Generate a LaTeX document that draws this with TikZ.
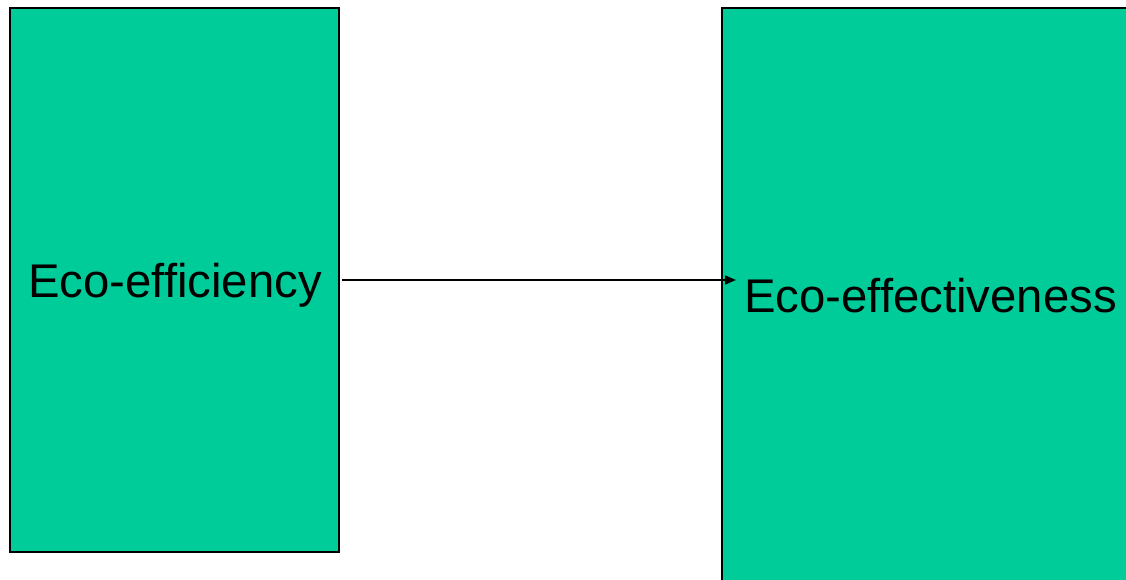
\documentclass[tikz,border=0pt]{standalone}
\usepackage{fontspec}
\setmainfont{Liberation Sans}
\usetikzlibrary{arrows.meta}
\definecolor{ecogreen}{RGB}{0,204,153}
\tikzset{
  ecobox/.style={draw=black, line width=2.2pt, fill=ecogreen, inner sep=0pt},
  ecotext/.style={font=\fontsize{47.3}{52}\selectfont, inner sep=0pt, anchor=base west},
  flow/.style={line width=1.9pt, -{Triangle[length=11pt,width=9pt]}}
}
\begin{document}
\begin{tikzpicture}[x=1pt,y=-1pt]
\useasboundingbox (0,0) rectangle (1126,580);
\clip (0,0) rectangle (1126,580);
\fill[white] (0,0) rectangle (1126,580);
\node[ecobox, minimum width=329pt, minimum height=544pt] (left) at (174.5,280) {};
\node[ecobox, minimum width=430pt, minimum height=590pt] (right) at (937,303) {};
\node[ecotext] (lt) at (28,297) {Eco-efficiency};
\node[ecotext] (rt) at (744,312) {Eco-effectiveness};
\coordinate (tip) at (736,280);
\coordinate (start) at (342,280);
\draw[flow] (start) -- (tip);
\end{tikzpicture}
\end{document}
